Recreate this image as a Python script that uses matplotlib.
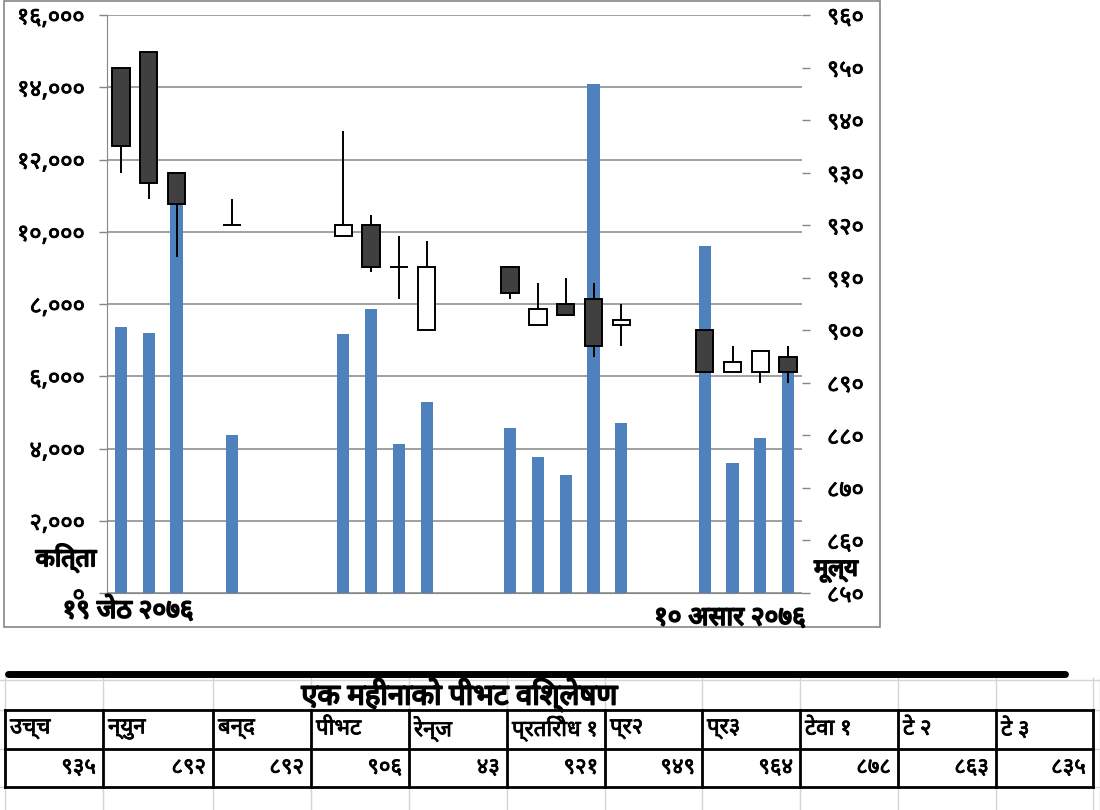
import matplotlib
matplotlib.use('Agg')
import matplotlib.pyplot as plt
import matplotlib.patheffects as pe
from matplotlib import font_manager
from matplotlib.ft2font import FT2Font
from matplotlib.ticker import FuncFormatter, MultipleLocator


# trading days counted from 19 Jestha 2076
day_offset = [0, 1, 2, 4, 8, 9, 10, 11, 14, 15, 16, 17, 18, 21, 22, 23, 24]
volume = [7350, 7200, 10800, 4370, 7170, 7860, 4120, 5290, 4570, 3760,
          3270, 14090, 4700, 9600, 3600, 4290, 6200]
price_open = [950, 953, 930, 920, 918, 920, 912, 900, 912, 901, 905, 906, 901, 900, 892, 892, 895]
price_high = [950, 953, 930, 925, 938, 922, 918, 917, 912, 909, 910, 909, 905, 900, 897, 896, 897]
price_low = [930, 925, 914, 920, 918, 911, 906, 900, 906, 901, 903, 895, 897, 892, 892, 890, 890]
price_close = [935, 928, 924, 920, 920, 912, 912, 912, 907, 904, 903, 897, 902, 892, 894, 896, 892]

date_first = '१९ जेठ २०७६'
date_last = '१० असार २०७६'

table_title = 'एक महीनाको पीभट विश्लेषण'
table_heads = ['उच्च', 'न्युन', 'बन्द', 'पीभट', 'रेन्ज', 'प्रतिरोध १', 'प्र२', 'प्र३', 'टेवा १', 'टे २', 'टे ३']
table_vals = ['९३५', '८९२', '८९२', '९०६', '४३', '९२१', '९४९', '९६४', '८७८', '८६३', '८३५']


def find_devanagari_font():
    # installed fonts that carry Devanagari, best looking first
    found = {}
    for f in font_manager.fontManager.ttflist:
        if 'mono' in f.name.lower():
            continue
        try:
            cmap = FT2Font(f.fname).get_charmap()
        except Exception:
            continue
        if 0x0915 in cmap and 0x0966 in cmap:
            found.setdefault(f.name, set()).add(f.weight)
    order = ['Noto Sans Devanagari', 'Lohit Devanagari', 'Noto Serif Devanagari',
             'FreeSans', 'FreeSerif', 'Gargi', 'Kalimati']
    for name in order:
        if name in found:
            return name
    return sorted(found)[0] if found else None


dev_font = find_devanagari_font()
fam = [dev_font, 'DejaVu Sans'] if dev_font else ['DejaVu Sans']
plt.rcParams['font.family'] = fam

DIGITS = str.maketrans('0123456789', '०१२३४५६७८९')
# no bold Devanagari face is installed, so thicken the strokes instead
heavy = [pe.withStroke(linewidth=1.3, foreground='black')]
semi = [pe.withStroke(linewidth=0.6, foreground='black')]


def nep(v, pos=None):
    return '{:,.0f}'.format(v).translate(DIGITS)


W, H = 1100, 810
fig = plt.figure(figsize=(W / 100, H / 100), dpi=100)

# chart area
L, R, T, B = 107, 802, 15, 593
ax = fig.add_axes([L / W, 1 - B / H, (R - L) / W, (B - T) / H])
ax2 = ax.twinx()

grey = '#868686'
ax.bar(day_offset, volume, width=0.44, color='#4F81BD', zorder=2)
ax.set_xlim(-0.5, 24.5)
ax.set_ylim(0, 16000)
ax.yaxis.set_major_locator(MultipleLocator(2000))
ax.yaxis.set_major_formatter(FuncFormatter(nep))
ax.grid(axis='y', color=grey, lw=1.1, zorder=0)
ax.set_axisbelow(True)
ax.set_xticks([])
for s in ['top', 'right']:
    ax.spines[s].set_visible(False)
ax.spines['left'].set_color(grey)
ax.spines['bottom'].set_color(grey)
ax.tick_params(axis='y', colors=grey, length=6, width=1, labelsize=17, labelcolor='black', pad=10)

for x, o, h, l, c in zip(day_offset, price_open, price_high, price_low, price_close):
    ax2.vlines(x, l, h, color='black', lw=1.4, zorder=3)
    fill = '#404040' if c < o else 'white'
    ax2.bar(x, abs(c - o), bottom=min(o, c), width=0.62, color=fill,
            edgecolor='black', lw=1.4, zorder=4)

ax2.set_ylim(850, 960)
ax2.yaxis.set_major_locator(MultipleLocator(10))
ax2.yaxis.set_major_formatter(FuncFormatter(nep))
for s in ['top', 'right', 'left', 'bottom']:
    ax2.spines[s].set_visible(False)
ax2.tick_params(axis='y', colors=grey, length=6, width=1, labelsize=17, labelcolor='black', pad=12)

for lab in ax.get_yticklabels() + ax2.get_yticklabels():
    lab.set_path_effects(semi)

fig.text(66 / W, 1 - 558 / H, 'कित्ता', fontsize=18, ha='center', va='center', path_effects=heavy)
fig.text(836 / W, 1 - 570 / H, 'मूल्य', fontsize=17, ha='center', va='center', path_effects=heavy)
fig.text(128 / W, 1 - 611 / H, date_first, fontsize=19, ha='center', va='center', path_effects=heavy)
fig.text(730 / W, 1 - 618 / H, date_last, fontsize=19, ha='center', va='center', path_effects=heavy)

# outer chart border
fig.add_artist(plt.Rectangle((4 / W, 1 - 627 / H), 876 / W, 626 / H, fill=False,
                             edgecolor=grey, lw=1.2, transform=fig.transFigure))

# spreadsheet part below the chart
cols = [5, 103, 213, 311, 409, 507, 605, 702, 800, 898, 996, 1093]
light = '#d4d4d4'
for x in cols + [1100]:
    fig.add_artist(plt.Line2D([x / W, x / W], [1 - 678 / H, 0], color=light, lw=1,
                              transform=fig.transFigure))
for y in [680, 710, 749, 787]:
    fig.add_artist(plt.Line2D([0, 1], [1 - y / H, 1 - y / H], color=light, lw=1,
                              transform=fig.transFigure))

fig.add_artist(plt.Line2D([8 / W, 1065 / W], [1 - 674 / H, 1 - 674 / H], color='black', lw=5,
                          solid_capstyle='round', transform=fig.transFigure))

fig.text(460 / W, 1 - 695 / H, table_title, fontsize=21, ha='center', va='center', path_effects=heavy)

for y in [710, 749, 787]:
    fig.add_artist(plt.Line2D([cols[0] / W, cols[-1] / W], [1 - y / H, 1 - y / H], color='black', lw=2,
                              transform=fig.transFigure))
for x in cols:
    fig.add_artist(plt.Line2D([x / W, x / W], [1 - 710 / H, 1 - 787 / H], color='black', lw=2,
                              transform=fig.transFigure))

for i, (hd, v) in enumerate(zip(table_heads, table_vals)):
    fig.text((cols[i] + 5) / W, 1 - 729 / H, hd, fontsize=16, ha='left', va='center', path_effects=semi)
    fig.text((cols[i + 1] - 7) / W, 1 - 768 / H, v, fontsize=16, ha='right', va='center', path_effects=semi)

fig.savefig('out.png', dpi=100)
